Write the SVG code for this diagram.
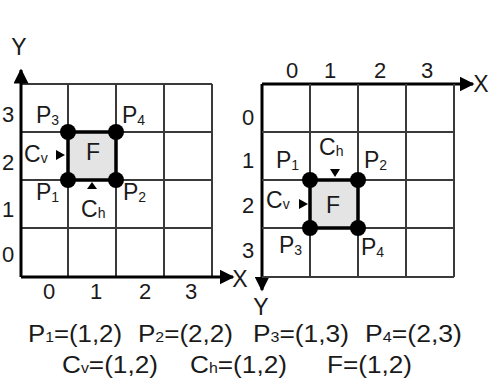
<svg xmlns="http://www.w3.org/2000/svg" width="489" height="383" viewBox="0 0 489 383">
<style>
text{font-family:"Liberation Sans",Arial,sans-serif;fill:#1a1a1a}
.lb{font-size:23px}
.cap{font-size:23px}
.sb{font-size:14px}
.num{font-size:22px;text-anchor:middle}
.grid{stroke:#3a3a3a;stroke-width:2;fill:none}
.axis{stroke:#000;stroke-width:3;fill:none}
.face{fill:#e4e4e4;stroke:#000;stroke-width:3.5}
.dot{fill:#000}
.tri{fill:#000}
</style>
<defs>
<marker id="ah" viewBox="0 0 10 10" refX="9" refY="5" markerWidth="5" markerHeight="5" orient="auto" markerUnits="strokeWidth">
<path d="M0,0 L10,5 L0,10 z" fill="#000"/>
</marker>
</defs>

<g id="left-grid">
<path class="grid" d="M21,84H212M21,132H212M21,180H212M21,228H212M68,84V277M116,84V277M164,84V277M212,84V277"/>
</g>
<g id="connectors">
<path class="axis" d="M21,277V70" marker-end="url(#ah)"/>
<path class="axis" d="M21,277H233" marker-end="url(#ah)"/>
<path class="axis" d="M262,84H473" marker-end="url(#ah)"/>
<path class="axis" d="M262,84V290" marker-end="url(#ah)"/>
</g>
<g id="left-labels">
<text class="lb" x="19" y="55" text-anchor="middle">Y</text>
<text class="lb" x="240" y="287" text-anchor="middle">X</text>
<text class="num" x="8" y="122">3</text>
<text class="num" x="8" y="170">2</text>
<text class="num" x="8" y="217">1</text>
<text class="num" x="8" y="262">0</text>
<text class="num" x="49" y="299">0</text>
<text class="num" x="96" y="299">1</text>
<text class="num" x="145" y="299">2</text>
<text class="num" x="191" y="299">3</text>
</g>
<g id="left-face">
<rect class="face" x="68" y="132" width="48" height="48"/>
<text class="lb" x="93" y="160" text-anchor="middle">F</text>
</g>
<g id="left-P3"><circle class="dot" cx="68" cy="132" r="8"/><text class="lb" x="36" y="123">P<tspan class="sb" dy="2">3</tspan></text></g>
<g id="left-P4"><circle class="dot" cx="116" cy="132" r="8"/><text class="lb" x="122" y="123">P<tspan class="sb" dy="2">4</tspan></text></g>
<g id="left-P1"><circle class="dot" cx="68" cy="180" r="8"/><text class="lb" x="36" y="200">P<tspan class="sb" dy="2">1</tspan></text></g>
<g id="left-P2"><circle class="dot" cx="116" cy="180" r="8"/><text class="lb" x="123" y="200">P<tspan class="sb" dy="2">2</tspan></text></g>
<g id="left-Cv"><text class="lb" x="24" y="162">C<tspan class="sb" dy="1">v</tspan></text><path class="tri" d="M56,150L65,155L56,160z"/></g>
<g id="left-Ch"><text class="lb" x="81" y="217">C<tspan class="sb" dy="1">h</tspan></text><path class="tri" d="M87,189L92,182L97,189z"/></g>

<g id="right-grid">
<path class="grid" d="M262,132H454M262,180H454M262,228H454M262,277H454M310,84V277M358,84V277M406,84V277M454,84V277"/>
</g>
<g id="right-labels">
<text class="lb" x="481" y="92" text-anchor="middle">X</text>
<text class="lb" x="261" y="315" text-anchor="middle">Y</text>
<text class="num" x="292" y="78">0</text>
<text class="num" x="330" y="78">1</text>
<text class="num" x="380" y="78">2</text>
<text class="num" x="427" y="78">3</text>
<text class="num" x="248" y="125">0</text>
<text class="num" x="248" y="168">1</text>
<text class="num" x="248" y="213">2</text>
<text class="num" x="248" y="258">3</text>
</g>
<g id="right-face">
<rect class="face" x="310" y="180" width="48" height="48"/>
<text class="lb" x="333" y="213" text-anchor="middle">F</text>
</g>
<g id="right-P1"><circle class="dot" cx="310" cy="180" r="8"/><text class="lb" x="276" y="168">P<tspan class="sb" dy="2">1</tspan></text></g>
<g id="right-P2"><circle class="dot" cx="358" cy="180" r="8"/><text class="lb" x="364" y="168">P<tspan class="sb" dy="2">2</tspan></text></g>
<g id="right-P3"><circle class="dot" cx="310" cy="228" r="8"/><text class="lb" x="279" y="253">P<tspan class="sb" dy="2">3</tspan></text></g>
<g id="right-P4"><circle class="dot" cx="358" cy="228" r="8"/><text class="lb" x="361" y="255">P<tspan class="sb" dy="2">4</tspan></text></g>
<g id="right-Cv"><text class="lb" x="266" y="208">C<tspan class="sb" dy="1">v</tspan></text><path class="tri" d="M299,199L308,204L299,209z"/></g>
<g id="right-Ch"><text class="lb" x="319" y="155">C<tspan class="sb" dy="1">h</tspan></text><path class="tri" d="M330,169L340,169L335,177z"/></g>

<g id="caption">
<text class="cap" x="28" y="342" textLength="94" lengthAdjust="spacingAndGlyphs">P<tspan class="sb">1</tspan>=(1,2)</text>
<text class="cap" x="138" y="342" textLength="95" lengthAdjust="spacingAndGlyphs">P<tspan class="sb">2</tspan>=(2,2)</text>
<text class="cap" x="253" y="342" textLength="96" lengthAdjust="spacingAndGlyphs">P<tspan class="sb">3</tspan>=(1,3)</text>
<text class="cap" x="365" y="342" textLength="97" lengthAdjust="spacingAndGlyphs">P<tspan class="sb">4</tspan>=(2,3)</text>
<text class="cap" x="62" y="373" textLength="96" lengthAdjust="spacingAndGlyphs">C<tspan class="sb">v</tspan>=(1,2)</text>
<text class="cap" x="190" y="373" textLength="97" lengthAdjust="spacingAndGlyphs">C<tspan class="sb">h</tspan>=(1,2)</text>
<text class="cap" x="327" y="373" textLength="85" lengthAdjust="spacingAndGlyphs">F=(1,2)</text>
</g>
</svg>
